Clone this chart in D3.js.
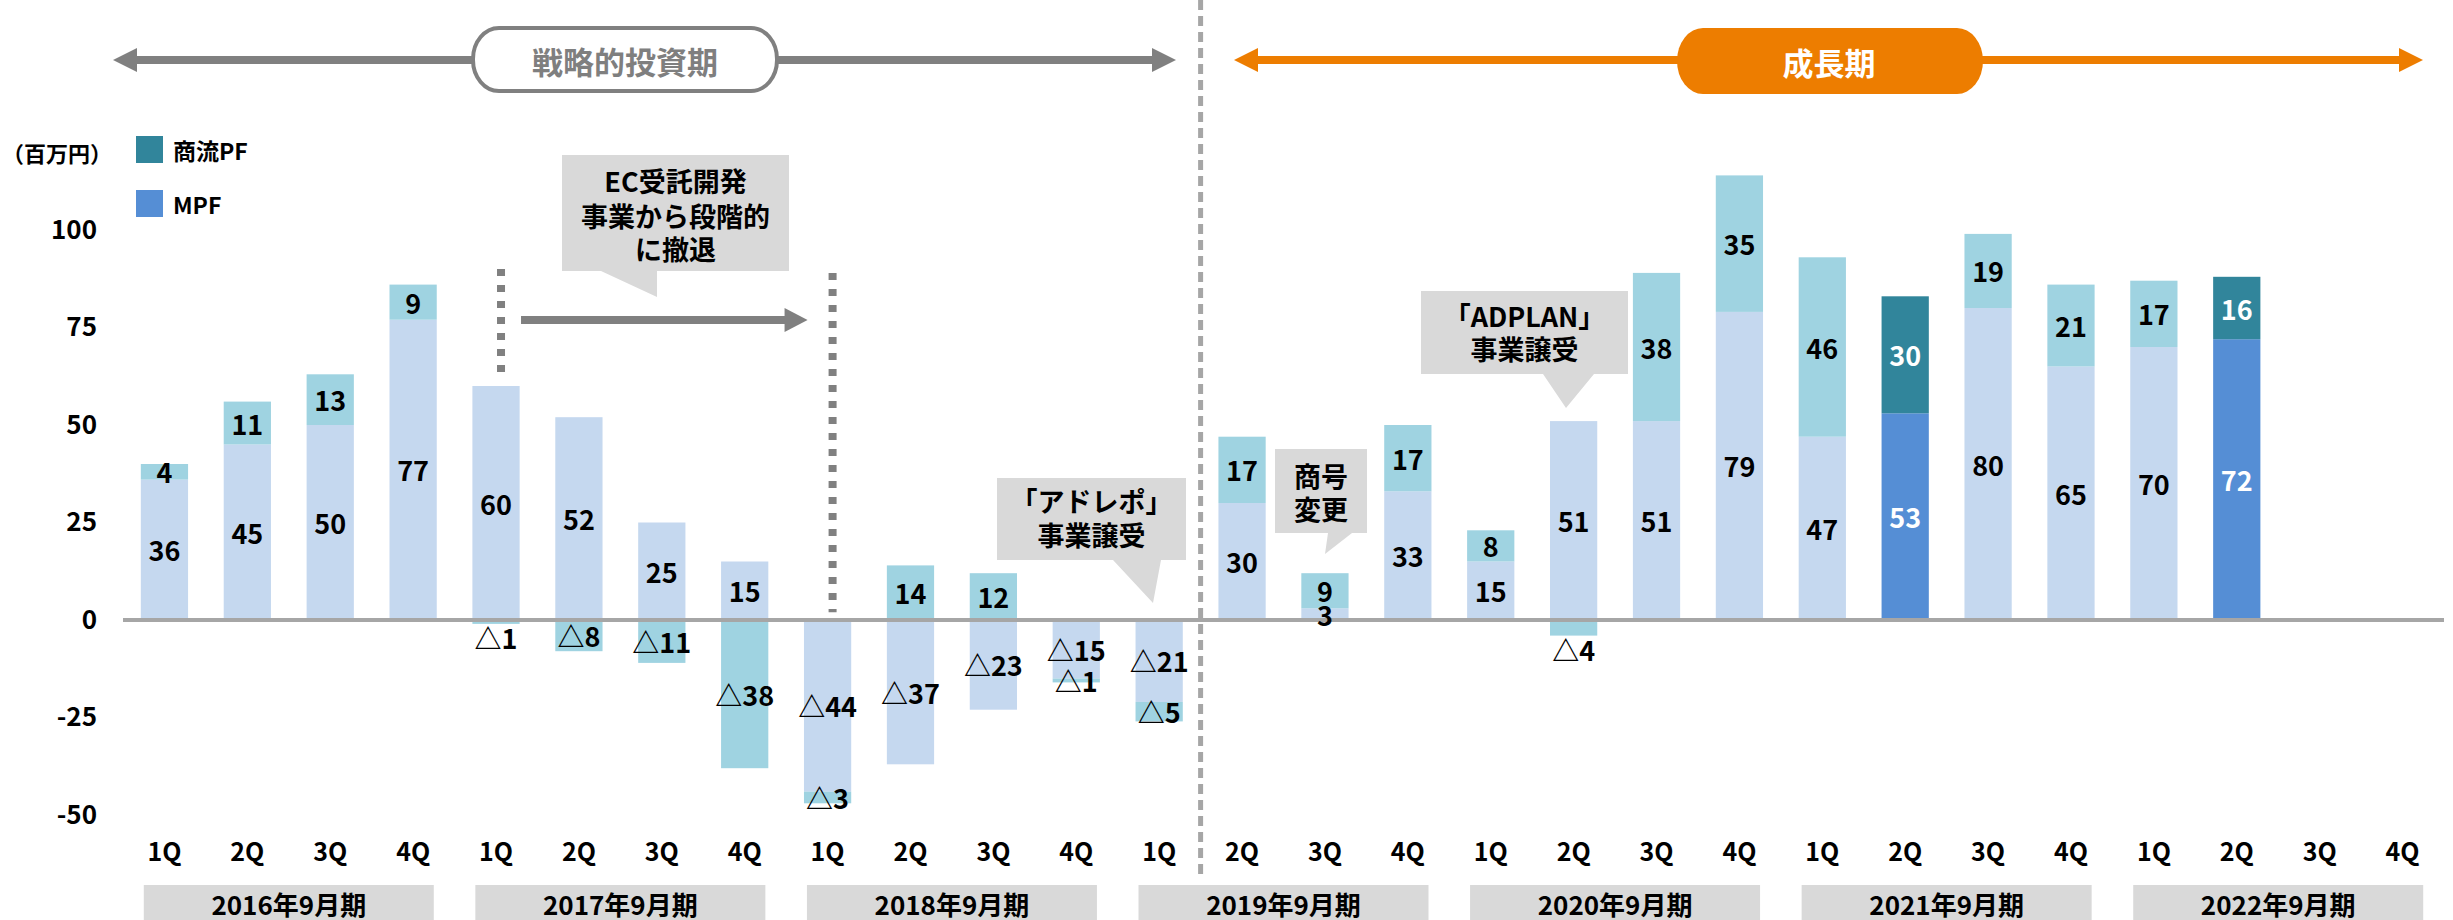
<!DOCTYPE html>
<html lang="ja">
<head>
    <meta charset="UTF-8">
    <title>四半期 営業利益推移</title>
    <script src="https://d3js.org/d3.v7.min.js"></script>
    <style>
        body {
            margin: 0;
            background-color: white;
        }
        svg text {
            font-family: "Noto Sans CJK JP", "Noto Sans", sans-serif;
            font-weight: 700;
        }
    </style>
</head>
<body>
    <div id="chart"></div>

    <script>
        // データ
        const fiscalYears = ["2016年9月期", "2017年9月期", "2018年9月期", "2019年9月期", "2020年9月期", "2021年9月期", "2022年9月期"];
        const quarters = ["1Q", "2Q", "3Q", "4Q"];
        const mpfValues = [36, 45, 50, 77, 60, 52, 25, 15, -44, -37, -23, -15, -21, 30, 3, 33, 15, 51, 51, 79, 47, 53, 80, 65, 70, 72, null, null];
        const shoryuValues = [4, 11, 13, 9, -1, -8, -11, -38, -3, 14, 12, -1, -5, 17, 9, 17, 8, -4, 38, 35, 46, 30, 19, 21, 17, 16, null, null];
        const yTicks = [-50, -25, 0, 25, 50, 75, 100];
        const highlighted = ["2021年9月期|2Q", "2022年9月期|2Q"];

        const width = 2453;
        const height = 920;
        const colors = {
            mpf: "#c5d8ef",
            shoryu: "#9fd3e1",
            mpfDark: "#558ed5",
            shoryuDark: "#31859b"
        };

        const svg = d3.select("#chart")
            .append("svg")
            .attr("width", width)
            .attr("height", height)
            .style("display", "block")
            .style("background-color", "white");

        const keys = fiscalYears.flatMap(fy => quarters.map(q => `${fy}|${q}`));
        const rows = keys.map((k, i) => ({ key: k, mpf: mpfValues[i] ?? 0, shoryu: shoryuValues[i] ?? 0 }));

        const x = d3.scaleBand()
            .domain(keys)
            .range([123, 2444])
            .paddingInner(0.43)
            .paddingOuter(0.215);
        const y = d3.scaleLinear()
            .domain([-50, 100])
            .range([815, 230]);
        const cx = k => x(k) + x.bandwidth() / 2;

        const series = d3.stack()
            .keys(["mpf", "shoryu"])
            .offset(d3.stackOffsetDiverging)(rows);

        const segments = series.flatMap(s => s
            .filter(d => d.data[s.key] !== 0)
            .map(d => ({ series: s.key, key: d.data.key, value: d.data[s.key], y0: d[0], y1: d[1] })));

        const fmt = v => v < 0 ? "△" + (-v) : String(v);
        const isDark = k => highlighted.includes(k);

        // 棒
        svg.append("g").selectAll("rect")
            .data(segments)
            .join("rect")
            .attr("x", d => x(d.key))
            .attr("width", x.bandwidth())
            .attr("y", d => y(Math.max(d.y0, d.y1)))
            .attr("height", d => Math.abs(y(d.y0) - y(d.y1)))
            .attr("fill", d => {
                if (d.series === "mpf") return isDark(d.key) ? colors.mpfDark : colors.mpf;
                return isDark(d.key) ? colors.shoryuDark : colors.shoryu;
            });

        // ゼロ線
        svg.append("line")
            .attr("x1", x.range()[0])
            .attr("x2", x.range()[1])
            .attr("y1", y(0))
            .attr("y2", y(0))
            .attr("stroke", "#a6a6a6")
            .attr("stroke-width", 4);

        // 値ラベル
        svg.append("g").selectAll("text")
            .data(segments)
            .join("text")
            .attr("x", d => cx(d.key))
            .attr("y", d => {
                // ゼロから下に伸びる小さい値は棒の下に出す
                if (d.value < 0 && d.y1 === 0 && Math.abs(d.value) <= 4) return y(d.y0) + 14;
                return (y(d.y0) + y(d.y1)) / 2;
            })
            .attr("text-anchor", "middle")
            .attr("dominant-baseline", "central")
            .attr("font-size", 27)
            .attr("fill", d => isDark(d.key) ? "white" : "#000")
            .text(d => fmt(d.value));

        // y軸
        const yAxis = svg.append("g")
            .attr("transform", "translate(97,0)")
            .call(d3.axisLeft(y).tickValues(yTicks).tickSize(0).tickPadding(0).tickFormat(d => String(d)));
        yAxis.select(".domain").remove();
        yAxis.selectAll("text")
            .attr("font-size", 26)
            .attr("font-family", null)
            .attr("fill", "#000");
        yAxis.attr("font-family", null);

        // x軸（四半期）
        const xAxis = svg.append("g")
            .attr("transform", "translate(0,843)")
            .call(d3.axisBottom(x).tickSize(0).tickPadding(0).tickFormat(k => k.split("|")[1]));
        xAxis.select(".domain").remove();
        xAxis.attr("font-family", null);
        xAxis.selectAll("text")
            .attr("font-size", 25)
            .attr("fill", "#000");

        // 決算期ボックス
        const yearG = svg.append("g").selectAll("g")
            .data(fiscalYears)
            .join("g")
            .attr("transform", fy => `translate(${(cx(`${fy}|1Q`) + cx(`${fy}|4Q`)) / 2},0)`);
        yearG.append("rect")
            .attr("x", -145)
            .attr("y", 885)
            .attr("width", 290)
            .attr("height", 35)
            .attr("fill", "#d9d9d9");
        yearG.append("text")
            .attr("y", 903)
            .attr("text-anchor", "middle")
            .attr("dominant-baseline", "central")
            .attr("font-size", 26)
            .attr("fill", "#000")
            .text(fy => fy);

        // 期の区切り（破線）
        const sepX = (cx(keys[12]) + cx(keys[13])) / 2;
        svg.append("line")
            .attr("x1", sepX).attr("x2", sepX)
            .attr("y1", 0).attr("y2", 880)
            .attr("stroke", "#a6a6a6")
            .attr("stroke-width", 5)
            .attr("stroke-dasharray", "10,6");

        // 両矢印
        function doubleArrow(x1, x2, yy, color) {
            const g = svg.append("g").attr("fill", color);
            g.append("rect")
                .attr("x", x1 + 20).attr("y", yy - 4)
                .attr("width", x2 - x1 - 40).attr("height", 8);
            g.append("path").attr("d", `M${x1},${yy} L${x1 + 24},${yy - 12} L${x1 + 24},${yy + 12} Z`);
            g.append("path").attr("d", `M${x2},${yy} L${x2 - 24},${yy - 12} L${x2 - 24},${yy + 12} Z`);
        }
        doubleArrow(113, 1176, 60, "#808080");
        doubleArrow(1234, 2423, 60, "#ed7d00");

        // 期ラベル
        svg.append("rect")
            .attr("x", 473).attr("y", 28)
            .attr("width", 304).attr("height", 63)
            .attr("rx", 26).attr("ry", 31)
            .attr("fill", "white")
            .attr("stroke", "#808080")
            .attr("stroke-width", 4);
        svg.append("text")
            .attr("x", 625).attr("y", 60)
            .attr("text-anchor", "middle")
            .attr("dominant-baseline", "central")
            .attr("font-size", 31)
            .attr("fill", "#7f7f7f")
            .text("戦略的投資期");

        svg.append("rect")
            .attr("x", 1677).attr("y", 28)
            .attr("width", 306).attr("height", 66)
            .attr("rx", 26).attr("ry", 33)
            .attr("fill", "#ed7d00");
        svg.append("text")
            .attr("x", 1829).attr("y", 61)
            .attr("text-anchor", "middle")
            .attr("dominant-baseline", "central")
            .attr("font-size", 31)
            .attr("fill", "white")
            .text("成長期");

        // 撤退期間の点線と矢印
        const dotted = [
            { k: keys[4], top: 90, bottom: 63 },
            { k: keys[8], top: 89, bottom: 2 }
        ];
        svg.append("g").selectAll("line")
            .data(dotted)
            .join("line")
            .attr("x1", d => cx(d.k) + 5).attr("x2", d => cx(d.k) + 5)
            .attr("y1", d => y(d.top)).attr("y2", d => y(d.bottom))
            .attr("stroke", "#808080")
            .attr("stroke-width", 8)
            .attr("stroke-dasharray", "7,9");

        const ax1 = cx(keys[4]) + 25;
        const ax2 = cx(keys[8]) - 20;
        svg.append("rect")
            .attr("x", ax1).attr("y", 316)
            .attr("width", ax2 - ax1 - 20).attr("height", 8)
            .attr("fill", "#808080");
        svg.append("path")
            .attr("d", `M${ax2},320 L${ax2 - 23},308 L${ax2 - 23},332 Z`)
            .attr("fill", "#808080");

        // 吹き出し
        function callout(bx, by, bw, bh, tail, lines, lineYs, fontSize) {
            const [t1, t2, t3] = tail;
            svg.append("path")
                .attr("d", `M${bx},${by} H${bx + bw} V${by + bh} H${t2[0]} L${t3[0]},${t3[1]} L${t1[0]},${by + bh} H${bx} Z`)
                .attr("fill", "#d9d9d9");
            svg.append("g").selectAll("text")
                .data(lines)
                .join("text")
                .attr("x", bx + bw / 2)
                .attr("y", (d, i) => lineYs[i])
                .attr("text-anchor", "middle")
                .attr("dominant-baseline", "central")
                .attr("font-size", fontSize)
                .attr("fill", "#000")
                .text(d => d);
        }
        callout(562, 155, 227, 116, [[601, 271], [657, 271], [657, 297]],
            ["EC受託開発", "事業から段階的", "に撤退"], [180, 215, 248], 27);
        callout(997, 478, 189, 82, [[1113, 560], [1161, 560], [1153, 603]],
            ["「アドレポ」", "事業譲受"], [500, 534], 27);
        callout(1275, 449, 92, 84, [[1328, 533], [1352, 533], [1325, 554]],
            ["商号", "変更"], [475, 508], 27);
        callout(1421, 291, 207, 83, [[1543, 374], [1594, 374], [1566, 408]],
            ["「ADPLAN」", "事業譲受"], [315, 348], 27);

        // 単位と凡例
        svg.append("text")
            .attr("x", 2).attr("y", 152)
            .attr("dominant-baseline", "central")
            .attr("font-size", 22)
            .attr("fill", "#000")
            .text("（百万円）");

        const legend = [
            { name: "商流PF", color: colors.shoryuDark, y: 136 },
            { name: "MPF", color: colors.mpfDark, y: 190 }
        ];
        const lg = svg.append("g").selectAll("g").data(legend).join("g");
        lg.append("rect")
            .attr("x", 136).attr("y", d => d.y)
            .attr("width", 27).attr("height", 27)
            .attr("fill", d => d.color);
        lg.append("text")
            .attr("x", 173).attr("y", d => d.y + 14)
            .attr("dominant-baseline", "central")
            .attr("font-size", 23)
            .attr("fill", "#000")
            .text(d => d.name);
    </script>
</body>
</html>
